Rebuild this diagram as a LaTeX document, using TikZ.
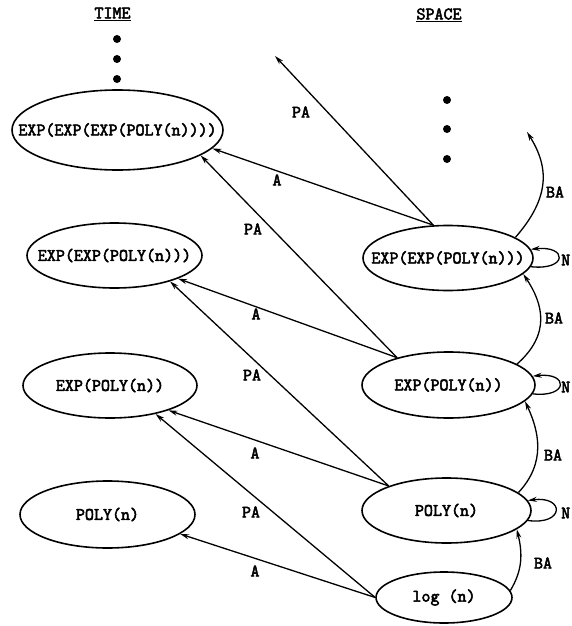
\documentclass[tikz,border=0pt]{standalone}
\usepackage{fontspec}
\newfontfamily\tw[FakeBold=3]{Latin Modern Mono}
\usetikzlibrary{shapes.geometric,arrows.meta}
\newcommand\mb[1]{\makebox[0pt]{#1}}
\begin{document}
\begin{tikzpicture}[x=1pt,y=-1pt,
  txt/.style={font=\tw\fontsize{17.5}{20}\selectfont},
  ell/.style={ellipse,draw,line width=1.6pt,inner sep=0pt,txt},
  arr/.style={line width=1.3pt,-{Stealth[length=9pt,width=5pt]}},
  lab/.style={txt,inner sep=0pt},
  dot/.style={circle,fill,inner sep=0pt,minimum size=8pt}]
\useasboundingbox (0,0) rectangle (571,626);

% headers
\node[lab] (time) at (112.5,14) {\underline{TIME}};
\node[lab] (space) at (439,15) {\underline{SPACE}};

% dots
\node[dot] (ld1) at (117,39) {};
\node[dot] (ld2) at (117,59) {};
\node[dot] (ld3) at (117,79) {};
\node[dot] (rd1) at (447,100) {};
\node[dot] (rd2) at (447,129) {};
\node[dot] (rd3) at (447,159) {};

% time nodes
\node[ell,minimum width=211pt,minimum height=80pt] (T4) at (117.5,130) {\mb{EXP(EXP(EXP(POLY(n))))}};
\node[ell,minimum width=175pt,minimum height=65pt] (T3) at (114.5,255.5) {\mb{EXP(EXP(POLY(n)))}};
\node[ell,minimum width=174pt,minimum height=65pt] (T2) at (110,385.5) {\mb{EXP(POLY(n))}};
\node[ell,minimum width=175pt,minimum height=67pt] (T1) at (107.5,514.5) {\mb{POLY(n)}};

% space nodes
\node[ell,minimum width=170pt,minimum height=65pt] (S4) at (448,258) {\mb{EXP(EXP(POLY(n)))}};
\node[ell,minimum width=173pt,minimum height=66pt] (S3) at (448.5,385) {\mb{EXP(POLY(n))}};
\node[ell,minimum width=169pt,minimum height=65pt] (S2) at (446.5,510.5) {\mb{POLY(n)}};
\node[ell,minimum width=136pt,minimum height=51pt] (S1) at (444,597.5) {\mb{log (n)}};

\coordinate (PAend) at (275,56);
\coordinate (BAend) at (527,132);

% A / PA edges
\draw[arr] (S4.114) -- (PAend);
\draw[arr] (S4.114) -- (T4.-11);
\draw[arr] (S3.152) -- (T4.-17);
\draw[arr] (S3.152) -- (T3.-20);
\draw[arr] (S2.157) -- (T3.-25);
\draw[arr] (S2.157) -- (T2.-23);
\draw[arr] (S1.180) -- (T2.-32);
\draw[arr] (S1.180) -- (T1.-15);

\node[lab] (l1) at (301,112) {PA};
\node[lab] (l2) at (277,180) {A};
\node[lab] (l3) at (253,229) {PA};
\node[lab] (l4) at (256,314) {A};
\node[lab] (l5) at (252,375) {PA};
\node[lab] (l6) at (255,453) {A};
\node[lab] (l7) at (251,512) {PA};
\node[lab] (l8) at (255,571) {A};

% BA arcs
\draw[arr] (S1.6) .. controls +(12,-20) and +(6,25) .. (S2.-15);
\draw[arr] (S2.14) .. controls +(28,-30) and +(14,30) .. (S3.-12);
\draw[arr] (S3.17) .. controls +(34,-30) and +(20,30) .. (S4.-12);
\draw[arr] (S4.17) .. controls +(35,-40) and +(22,35) .. (BAend);

\node[lab] (b1) at (555,192) {BA};
\node[lab] (b2) at (554,318) {BA};
\node[lab] (b3) at (553,455) {BA};
\node[lab] (b4) at (543,563) {BA};

% N loops
\draw[arr] (S4.-6) .. controls +(37,4) and +(37,-4) .. (S4.6);
\draw[arr] (S3.-6) .. controls +(36,4) and +(36,-4) .. (S3.6);
\draw[arr] (S2.-7) .. controls +(37,5) and +(37,-5) .. (S2.7);

\node[lab,anchor=west] (n1) at (561,260) {N};
\node[lab,anchor=west] (n2) at (561,387) {N};
\node[lab,anchor=west] (n3) at (561,513) {N};
\end{tikzpicture}
\end{document}
